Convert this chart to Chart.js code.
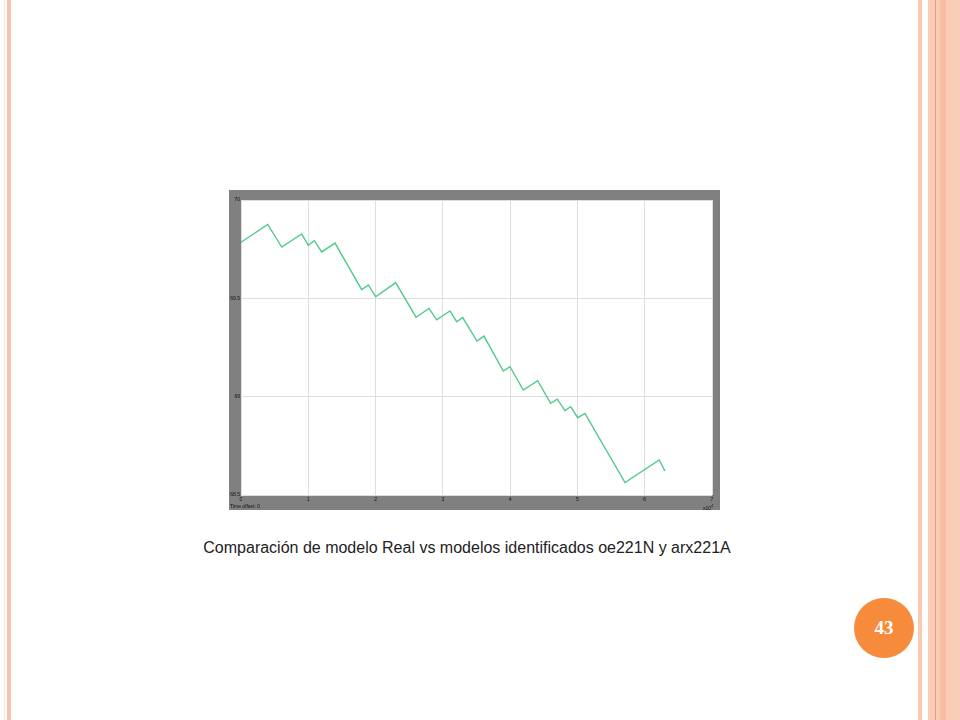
<!DOCTYPE html>
<html>
<head>
<meta charset="utf-8">
<script src="https://cdn.jsdelivr.net/npm/chart.js@4/dist/chart.umd.min.js"></script>
<style>
  body { margin: 0; width: 960px; height: 720px; background: #fff; position: relative; overflow: hidden; font-family: "Liberation Sans", Arial, sans-serif; }
  .bar { position: absolute; top: 0; height: 720px; }
  #frame { position: absolute; left: 229px; top: 190px; width: 491px; height: 320px; }
  .tiny { position: absolute; font-size: 5px; color: #111; white-space: nowrap; }
  #caption { position: absolute; left: 0; width: 934px; top: 539px; text-align: center; font-size: 16px; color: #222; }
  #page { position: absolute; left: 854px; top: 598px; width: 60px; height: 60px; border-radius: 50%; background: #f68b3c;
          color: #fff; font-family: "Liberation Serif", "DejaVu Serif", serif; font-weight: bold; font-size: 19px; line-height: 60px; text-align: center; }
</style>
</head>
<body>
<div class="bar" style="left:4px;width:1px;background:#fbe3d8"></div>
<div class="bar" style="left:7px;width:4px;background:#f6c4ae"></div>
<div class="bar" style="left:918px;width:4px;background:#f8c9b3"></div>
<div class="bar" style="left:928px;width:32px;background:#f9ccb7"></div>
<div class="bar" style="left:935px;width:1px;background:#ef9a6e"></div>
<div class="bar" style="left:940px;width:6px;background:#f7bea4"></div>

<div id="frame"><canvas id="scope" width="491" height="320"></canvas></div>
<div class="tiny" style="left:230px;top:503px">Time offset:  0</div>
<div class="tiny" style="left:703px;top:503px">x10<sup style="font-size:4px">4</sup></div>

<div id="caption">Comparación de modelo Real vs modelos identificados oe221N y arx221A</div>
<div id="page">43</div>

<script>
// time axis in units of 10^4
var timeVals = [0, 0.397, 0.605, 0.902, 1.000, 1.089, 1.199, 1.397, 1.794, 1.892, 2.002,
  2.299, 2.601, 2.794, 2.908, 3.106, 3.206, 3.295, 3.507, 3.611, 3.898, 3.998, 4.195,
  4.409, 4.602, 4.700, 4.815, 4.900, 5.004, 5.112, 5.707, 6.216, 6.301];
var outputVals = [69.785, 69.876, 69.761, 69.827, 69.770, 69.793, 69.736, 69.781, 69.544,
  69.568, 69.508, 69.580, 69.404, 69.449, 69.391, 69.436, 69.381, 69.402, 69.283, 69.308,
  69.130, 69.152, 69.034, 69.081, 68.966, 68.987, 68.929, 68.949, 68.893, 68.915, 68.563,
  68.678, 68.622];
var xTicks = [0, 1, 2, 3, 4, 5, 6, 7];
var yTicks = [68.5, 69, 69.5, 70];

var points = timeVals.map(function(t, i) { return { x: t, y: outputVals[i] }; });

// scope look: gray frame, white plot area
var scopeBg = {
  id: 'scopeBg',
  beforeDraw: function(chart) {
    var ctx = chart.ctx, a = chart.chartArea;
    ctx.save();
    ctx.fillStyle = '#808080';
    ctx.fillRect(0, 0, chart.width, chart.height);
    ctx.fillStyle = '#ffffff';
    ctx.fillRect(a.left, a.top, a.right - a.left, a.bottom - a.top);
    ctx.restore();
  }
};

new Chart(document.getElementById('scope').getContext('2d'), {
  type: 'line',
  data: {
    datasets: [{
      label: 'Salida',
      data: points,
      borderColor: '#52c98c',
      borderWidth: 1.4,
      pointRadius: 0,
      tension: 0,
      fill: false
    }]
  },
  options: {
    responsive: false,
    animation: false,
    layout: { padding: { left: 0, top: 10, right: 8, bottom: 0 } },
    plugins: { legend: { display: false }, tooltip: { enabled: false } },
    scales: {
      x: {
        type: 'linear', min: 0, max: 7,
        afterFit: function(s) { s.height = 15; },
        afterBuildTicks: function(s) { s.ticks = xTicks.map(function(v) { return { value: v }; }); },
        grid: { color: '#dedede', lineWidth: 1, drawTicks: false },
        border: { display: false },
        ticks: { font: { size: 5, family: 'Liberation Sans' }, color: '#111', padding: 2, maxRotation: 0 }
      },
      y: {
        min: 68.5, max: 70,
        afterFit: function(s) { s.width = 12; },
        afterBuildTicks: function(s) { s.ticks = yTicks.map(function(v) { return { value: v }; }); },
        grid: { color: '#dedede', lineWidth: 1, drawTicks: false },
        border: { display: false },
        ticks: { font: { size: 5, family: 'Liberation Sans' }, color: '#111', padding: 1,
          callback: function(v) { return String(v); } }
      }
    }
  },
  plugins: [scopeBg]
});
</script>
</body>
</html>
